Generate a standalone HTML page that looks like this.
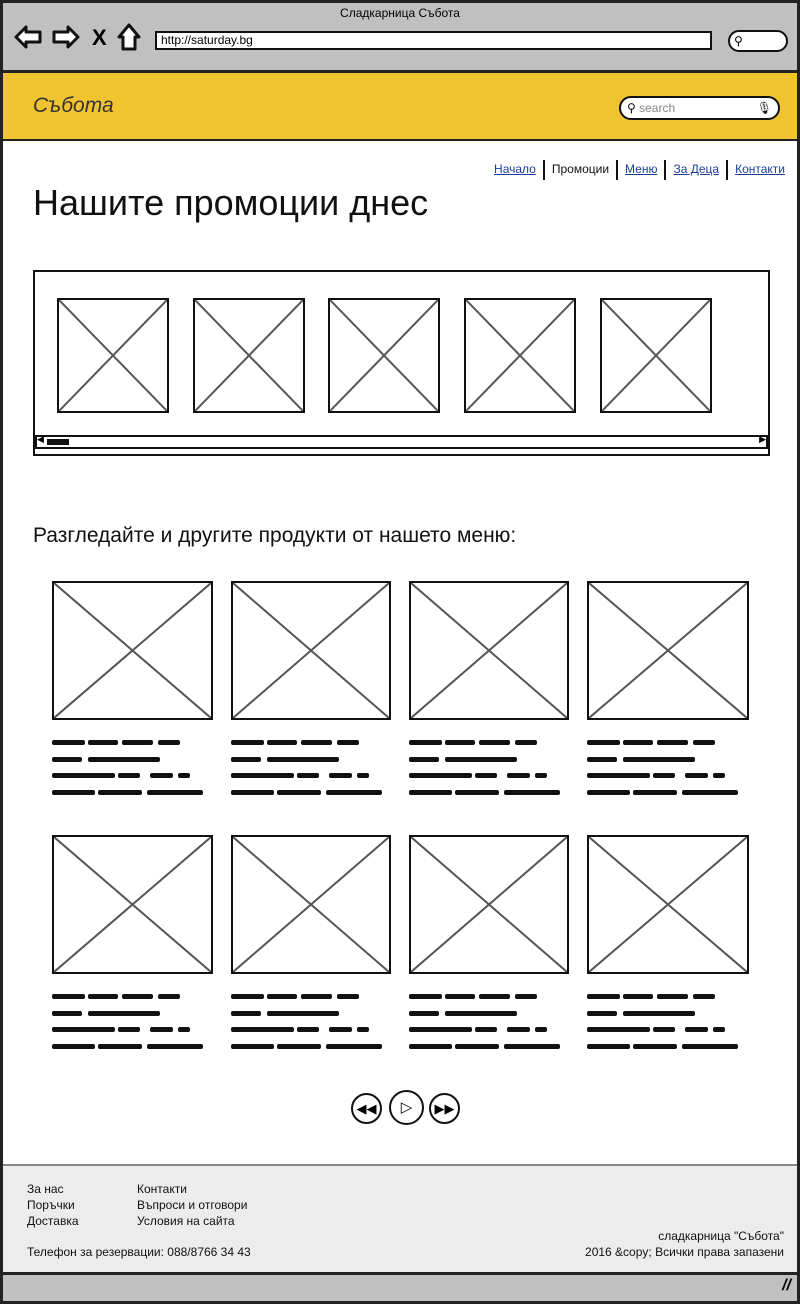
<!DOCTYPE html>
<html><head><meta charset="utf-8">
<style>
*{margin:0;padding:0;box-sizing:border-box}
body{width:800px;height:1304px;position:relative;background:#fff;font-family:"Liberation Sans","DejaVu Sans",sans-serif;overflow:hidden}
.abs{position:absolute}
.ph{position:absolute;border:2px solid #111;background:#fff}
.ph svg{position:absolute;left:0;top:0;width:100%;height:100%}
.sq{position:absolute;height:5px;background:#111;border-radius:2px}
.nav a{color:#1a3f9a;text-decoration:underline;font-size:12px}
.sep{display:inline-block;width:2px;height:20px;background:#111;vertical-align:middle;margin:0 7px}
.circ{position:absolute;border:2px solid #111;border-radius:50%;background:#fff}
.foot{font-size:12px;color:#111;line-height:16px}
</style></head><body>
<div class="abs" style="left:0;top:0;width:800px;height:1304px;border:3px solid #222"></div>
<div class="abs" style="left:3px;top:3px;width:794px;height:69px;background:#c0c0c0;border-bottom:2px solid #222"></div>
<div class="abs" style="left:0;top:6px;width:800px;text-align:center;font-size:12px">Сладкарница Събота</div>
<svg class="abs" style="left:14px;top:22px" width="130" height="30">
<polygon points="2,15 12,5 12,10 26,10 26,20 12,20 12,25" fill="#fff" stroke="#111" stroke-width="3" stroke-linejoin="round"/>
<polygon points="64,15 54,5 54,10 40,10 40,20 54,20 54,25" fill="#fff" stroke="#111" stroke-width="3" stroke-linejoin="round"/>
<text x="78" y="23" font-size="22" font-weight="bold" font-family="Liberation Sans">X</text>
<polygon points="115,3 105,15 109,15 109,27 121,27 121,15 125,15" fill="#fff" stroke="#111" stroke-width="3" stroke-linejoin="round"/>
</svg>
<div class="abs" style="left:155px;top:31px;width:557px;height:19px;border:2px solid #111;background:#fff;font-size:12px;padding-left:4px;line-height:14px">http://saturday.bg</div>
<div class="abs" style="left:728px;top:30px;width:60px;height:22px;border:2px solid #111;border-radius:11px;background:#fff;font-size:12px;font-weight:bold;padding-left:4px;line-height:18px">&#9906;</div>
<div class="abs" style="left:3px;top:72px;width:794px;height:69px;background:#f0c330;border-bottom:2px solid #222;border-top:1px solid #222"></div>
<div class="abs" style="left:33px;top:94px;font-size:21px;font-style:italic;color:#333">Събота</div>
<div class="abs" style="left:619px;top:96px;width:161px;height:24px;border:2px solid #111;border-radius:12px;background:#fff;font-size:12px;color:#888;line-height:20px;padding-left:6px"><b style="color:#111">&#9906;</b> search<span style="position:absolute;right:6px;color:#111">&#127897;</span></div>
<div class="abs nav" style="right:15px;top:160px;font-size:12px">
<a>Начало</a><span class="sep"></span><span style="color:#111">Промоции</span><span class="sep"></span><a>Меню</a><span class="sep"></span><a>За Деца</a><span class="sep"></span><a>Контакти</a></div>
<div class="abs" style="left:33px;top:182px;font-size:36px;color:#111">Нашите промоции днес</div>
<div class="abs" style="left:33px;top:270px;width:737px;height:186px;border:2px solid #111"></div>
<div class="abs" style="left:35px;top:435px;width:733px;height:14px;border:2px solid #111;background:#fff"><div style="position:absolute;left:10px;top:2px;width:22px;height:6px;background:#111"></div><span style="position:absolute;left:0;top:-3px;font-size:9px">&#9664;</span><span style="position:absolute;right:0;top:-3px;font-size:9px">&#9654;</span></div>
<div class="abs" style="left:33px;top:524px;font-size:21px;color:#111">Разгледайте и другите продукти от нашето меню:</div>
<div class="circ" style="left:351px;top:1093px;width:31px;height:31px;text-align:center;font-size:13px;line-height:27px;font-weight:bold">&#9664;&#9664;</div>
<div class="circ" style="left:389px;top:1090px;width:35px;height:35px;text-align:center;font-size:15px;line-height:31px">&#9655;</div>
<div class="circ" style="left:429px;top:1093px;width:31px;height:31px;text-align:center;font-size:13px;line-height:27px;font-weight:bold">&#9654;&#9654;</div>
<div class="abs" style="left:3px;top:1164px;width:794px;height:111px;background:#ececec;border-top:2px solid #888;border-bottom:3px solid #222"></div>
<div class="abs foot" style="left:27px;top:1181px"><div>За нас</div><div>Поръчки</div><div>Доставка</div></div>
<div class="abs foot" style="left:137px;top:1181px"><div>Контакти</div><div>Въпроси и отговори</div><div>Условия на сайта</div></div>
<div class="abs foot" style="left:27px;top:1244px">Телефон за резервации: 088/8766 34 43</div>
<div class="abs foot" style="right:16px;top:1228px;text-align:right">сладкарница "Събота"<br>2016 &amp;copy; Всички права запазени</div>
<div class="abs" style="left:3px;top:1275px;width:794px;height:26px;background:#c0c0c0"><span style="position:absolute;right:6px;top:2px;font-size:16px;font-weight:bold;font-style:italic">//</span></div>
<script>
function ph(x,y,w,h,name){
  var d=document.createElement('div');d.className='ph';
  d.style.left=x+'px';d.style.top=y+'px';d.style.width=w+'px';d.style.height=h+'px';
  
  
  d.innerHTML='<svg viewBox="0 0 100 100" preserveAspectRatio="none"><line x1="0" y1="0" x2="100" y2="100" stroke="#555" stroke-width="2" vector-effect="non-scaling-stroke"/><line x1="100" y1="0" x2="0" y2="100" stroke="#555" stroke-width="2" vector-effect="non-scaling-stroke"/></svg>';
  document.body.appendChild(d);
}
var promoX=[57,193,328,464,600];
promoX.forEach(function(x,i){ph(x,298,112,115,'promo-image-'+(i+1));});
var gridX=[52,231,409,587],gridW=[161,160,160,162],rowY=[581,835];
var words=[[[0,33],[36,30],[70,31],[106,22]],[[0,30],[36,72]],[[0,63],[66,22],[98,23],[126,12]],[[0,43],[46,44],[95,56]]];
rowY.forEach(function(y,r){gridX.forEach(function(x,c){
  ph(x,y,gridW[c],139,'product-image-'+(r*4+c+1));
  var t=document.createElement('div');t.className='abs';
  
  
  t.style.left=x+'px';t.style.top=(y+159)+'px';
  words.forEach(function(line,li){line.forEach(function(wd){
    var s=document.createElement('div');s.className='sq';
    s.style.left=wd[0]+'px';s.style.width=wd[1]+'px';s.style.top=(li*16.5)+'px';
    t.appendChild(s);});});
  document.body.appendChild(t);
});});
</script>
</body></html>
